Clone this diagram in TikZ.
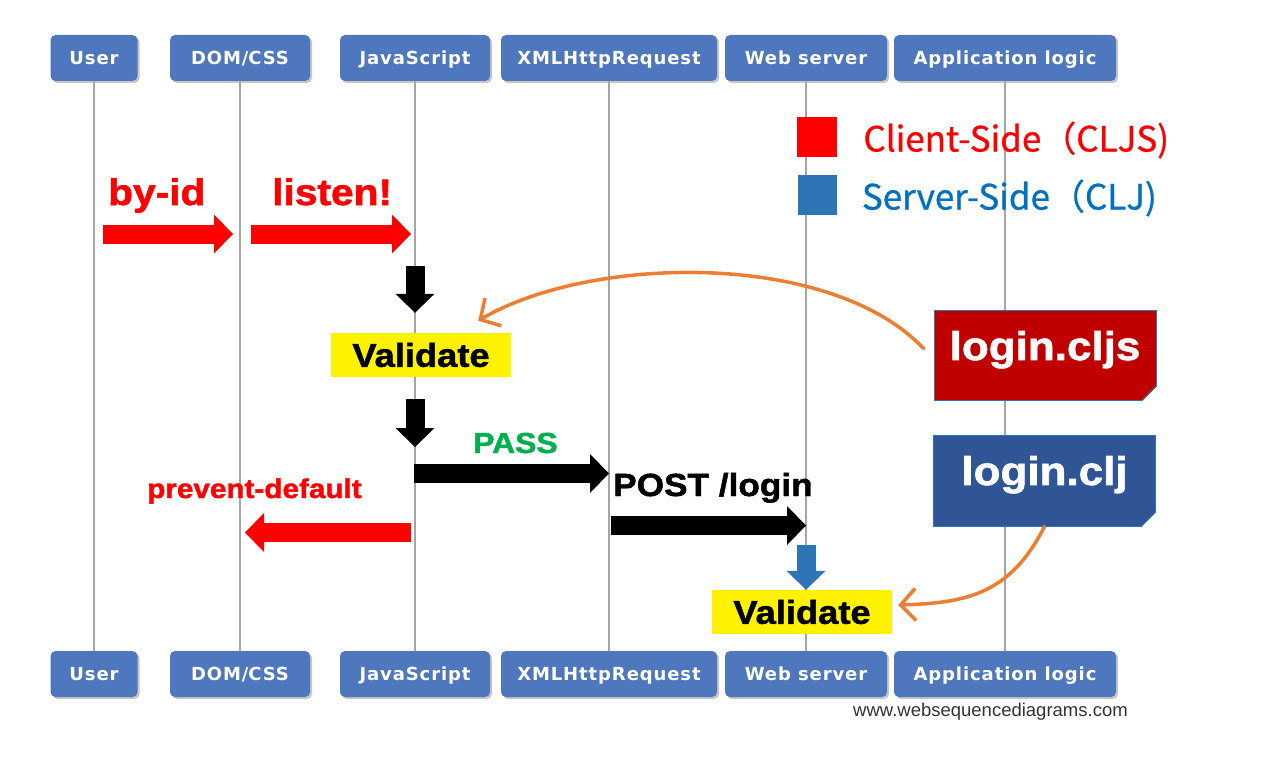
\documentclass[tikz,border=0pt]{standalone}
\usepackage{fontspec}
\setmainfont{Liberation Sans}
\newfontfamily\hdrfont{DejaVu Sans}[LetterSpace=5]
\newfontfamily\lblfont{Liberation Sans}[FakeStretch=1.1, BoldFeatures={FakeBold=1.5}]
\newfontfamily\cjkfont{Noto Sans CJK SC}[FakeBold=0.8]
\usetikzlibrary{arrows.meta,calc,shadows,positioning}
\newcommand\fsz[1]{\fontsize{#1}{#1}\selectfont}

\definecolor{hdrblue}{RGB}{79,119,190}
\definecolor{lifegray}{RGB}{165,165,165}
\definecolor{cljsred}{RGB}{192,0,0}
\definecolor{cljblue}{RGB}{47,85,151}
\definecolor{srvblue}{RGB}{46,117,182}
\definecolor{srvtext}{RGB}{0,112,192}
\definecolor{passgreen}{RGB}{0,176,80}
\definecolor{noteorange}{RGB}{237,125,49}

\tikzset{
  header/.style={fill=hdrblue, rounded corners=5pt, minimum height=46pt, inner sep=0pt,
    text=white, font=\hdrfont\bfseries\fsz{18}, text height=13pt, text depth=0pt,
    drop shadow={opacity=.45, shadow xshift=2pt, shadow yshift=-2pt}},
  lifeline/.style={draw=lifegray, line width=2pt},
  block/.style={line width=19pt, -{Triangle[length=19pt, width=39pt, line width=0pt]}},
  check/.style={fill=yellow, minimum width=180pt, minimum height=44pt, inner sep=0pt,
    font=\lblfont\bfseries\fsz{33}},
  srcfile/.style={minimum width=222pt, minimum height=90pt, inner sep=0pt, text=white,
    font=\lblfont\bfseries\fsz{40}, text depth=20pt, draw=srvblue, line width=.8pt},
  note/.style={draw=noteorange, line width=3.5pt, line cap=round, line join=round,
    -{Straight Barb[length=15pt, width=32pt]}},
  msg/.style={anchor=base west, inner sep=0pt, font=\lblfont\bfseries\fsz{#1}},
  legend/.style={inner sep=0pt, font=\cjkfont\fsz{35}, yshift=-3pt},
}

\begin{document}
\begin{tikzpicture}[x=1pt, y=-1pt]
    \useasboundingbox (0,0) rectangle (1280,757);

    % Participants and lifelines
    \foreach \n/\x/\w/\t in {user/94/87/User, dom/240/140/DOM\slash CSS, js/415/150/JavaScript,
        xhr/609/216/XMLHttpRequest, web/806/162/Web server, app/1005/222/Application logic}{
        \node[header, minimum width=\w pt] (\n) at (\x,58) {\t};
        \node[header, minimum width=\w pt] (\n-b) at (\x,674) {\t};
        \draw[lifeline] (\n) -- (\n-b);
    }

    % Legend
    \node[fill=red, minimum size=40pt, inner sep=0pt] (cs-key) at (817,137) {};
    \node[legend, right=26pt of cs-key, red] (cs-text) {Client-Side（CLJS)};
    \node[fill=srvblue, minimum size=39pt, inner sep=0pt] (ss-key) at (817,195) {};
    \node[legend, right=25pt of ss-key, srvtext] (ss-text) {Server-Side（CLJ)};

    % Client side
    \coordinate (byid) at (103,234);
    \coordinate (listen) at (251,234);
    \draw[block, red, shorten >=7pt] (byid) -- (dom |- byid);
    \draw[block, red, shorten >=4pt] (listen) -- (js |- listen);
    \node[msg=37, red] (byid-text) at (108,205) {by-id};
    \node[msg=37, red] (listen-text) at (272,205) {listen!};

    \node[check] (v1) at (421,355) {Validate};
    \draw[block, shorten >=20pt] (js |- 0,266) -- (js |- v1.north);
    \draw[block, shorten <=22pt] (js |- v1.south) -- (js |- 0,447);

    \coordinate (pass) at (414,473.5);
    \draw[block] (pass) -- (xhr |- pass);
    \node[msg=29, passgreen] (pass-text) at (473,453) {PASS};

    \coordinate (prev) at (411,532.5);
    \draw[block, red, shorten >=5pt] (prev) -- (dom |- prev);
    \node[msg=27, red] (prev-text) at (147,498) {prevent-default};

    % Server side
    \coordinate (post) at (611,525.5);
    \draw[block] (post) -- (web |- post);
    \node[msg=32] (post-text) at (613,496) {POST /login};

    \node[check] (v2) at (802,612) {Validate};
    \draw[block, srvblue] (web |- 0,545) -- (web |- v2.north);

    % Source files
    \node[srcfile, fill=cljsred] (cljs) at (1045,355.5) {login.cljs};
    \node[srcfile, fill=cljblue, minimum height=91pt] (clj) at (1044.5,480.5) {login.clj};
    \foreach \b/\c in {cljs/cljsred, clj/cljblue}{
        \fill[white] ($(\b.south east)+(-15,1)$) -- ($(\b.south east)+(1,1)$) -- ($(\b.south east)+(1,-15)$) -- cycle;
        \fill[\c!60!black] ($(\b.south east)+(-15,0)$) -- ($(\b.south east)+(0,-15)$) -- ($(\b.south east)+(-11,-4)$) -- cycle;
        \draw[srvblue, line width=.8pt] ($(\b.south east)+(-15,0)$) -- ($(\b.south east)+(0,-15)$);
    }

    % Pointers
    \draw[note] ($(cljs.west)+(-10,-7)$) .. controls (830,250) and (590,255) .. ($(v1.north east)+(-33,-12)$);
    \draw[note] (clj.south) .. controls (1010,595) and (965,603) .. ($(v2.east)+(6,-7)$);

    \node[anchor=base west, inner sep=0pt, text=black!80, font=\fsz{18.5}] (credit) at (853,716) {www.websequencediagrams.com};
\end{tikzpicture}
\end{document}
